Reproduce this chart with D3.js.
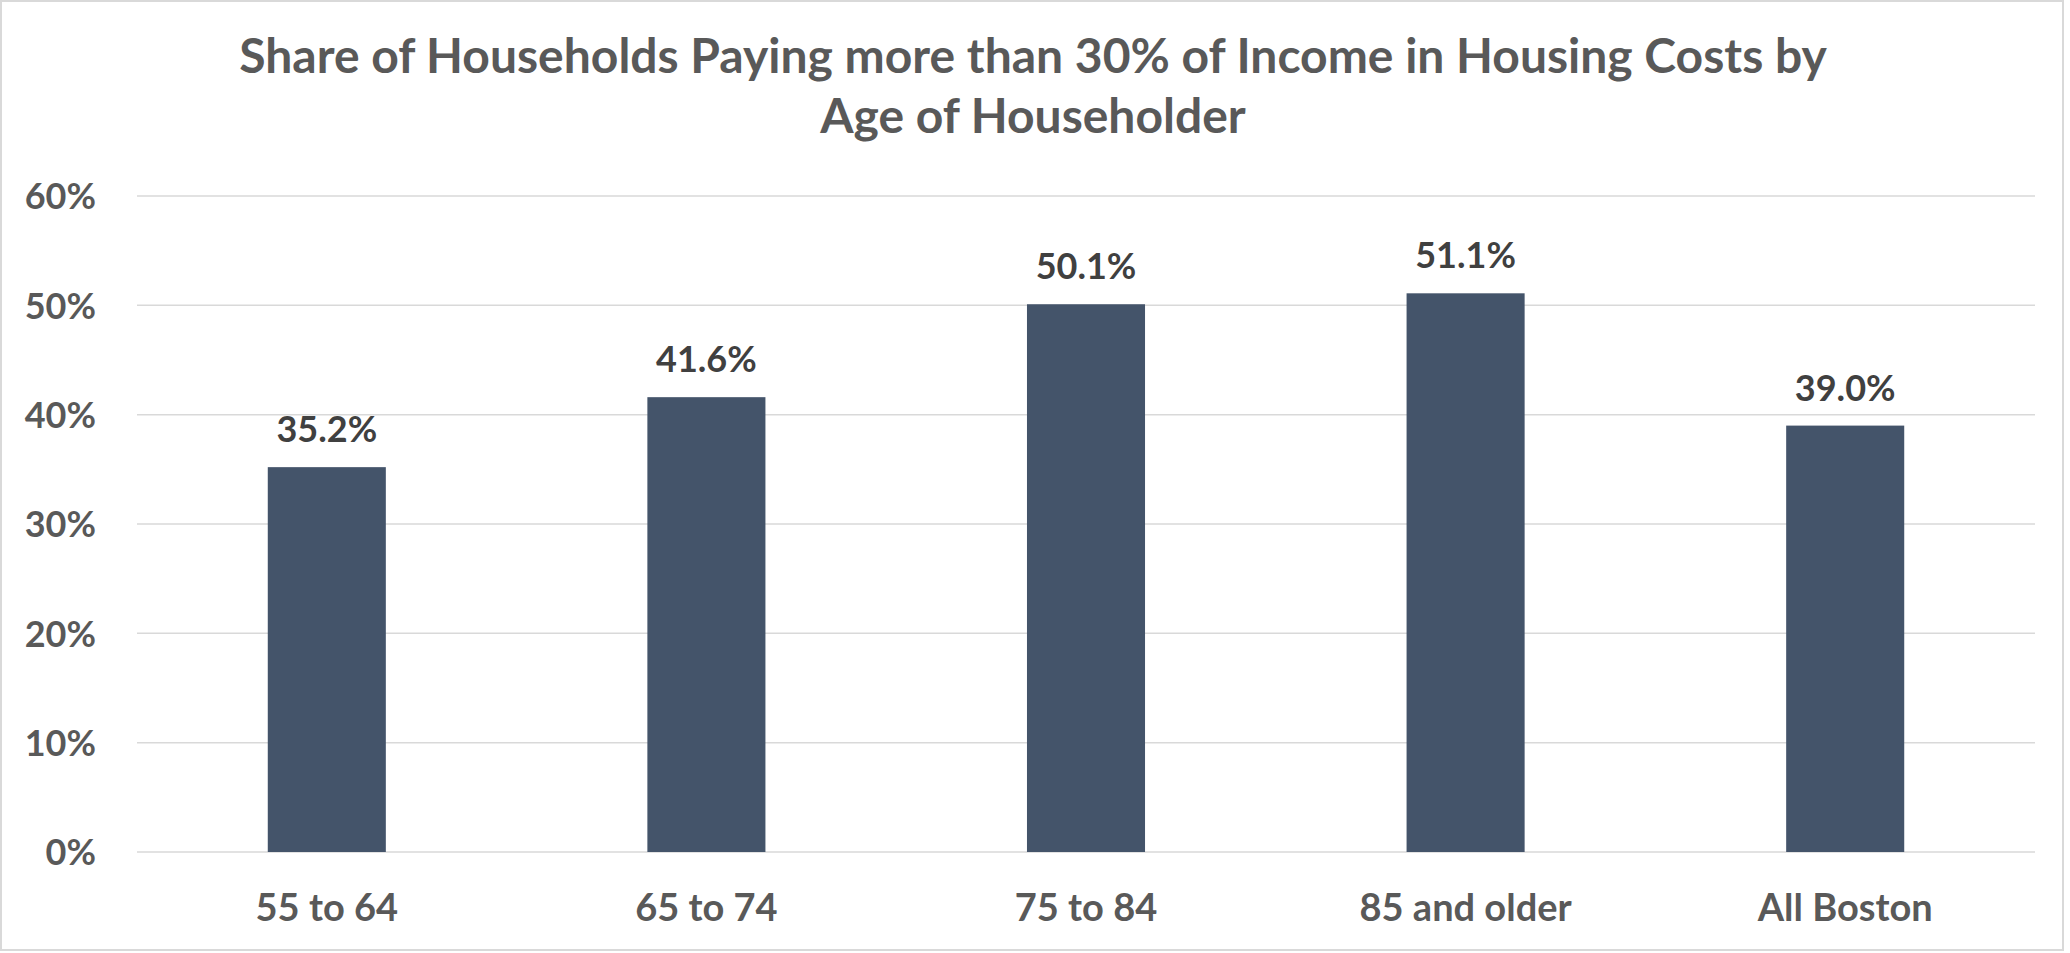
<!DOCTYPE html>
<html>
<head>
<meta charset="utf-8">
<script src="https://cdn.jsdelivr.net/npm/d3@7"></script>
<style>
  html, body { margin: 0; padding: 0; background: #fff; }
  svg { display: block; }
  text { font-family: Lato, "Open Sans", sans-serif; font-weight: 700; }
</style>
</head>
<body>
<svg id="chart" width="2070" height="953"></svg>
<script>
const categories = ["55 to 64", "65 to 74", "75 to 84", "85 and older", "All Boston"];
const values = [35.2, 41.6, 50.1, 51.1, 39.0];
const yTicks = [0, 10, 20, 30, 40, 50, 60];
const titleLines = ["Share of Households Paying more than 30% of Income in Housing Costs by", "Age of Householder"];

const svg = d3.select("#chart");
const W = 2070, H = 953;
const margin = { left: 137, right: 2070 - 2035, top: 196, bottom: 953 - 852 };

svg.append("rect").attr("x", 1).attr("y", 1).attr("width", W - 8).attr("height", H - 4)
  .attr("fill", "#fff").attr("stroke", "#d9d9d9").attr("stroke-width", 2);

const x = d3.scaleBand().domain(categories)
  .range([margin.left, W - margin.right])
  .paddingInner(0.689).paddingOuter(0.3445);
const y = d3.scaleLinear().domain([0, 60]).range([H - margin.bottom, margin.top]);

// gridlines
svg.append("g").selectAll("line").data(yTicks).join("line")
  .attr("x1", margin.left).attr("x2", W - margin.right)
  .attr("y1", d => y(d)).attr("y2", d => y(d))
  .attr("stroke", "#d9d9d9").attr("stroke-width", 1.5);

// y axis labels
const yAxis = d3.axisLeft(y).tickValues(yTicks).tickFormat(d => d + "%").tickSize(0).tickPadding(0);
const yg = svg.append("g").attr("transform", `translate(96,0)`).call(yAxis);
yg.select(".domain").remove();
yg.selectAll("text").attr("fill", "#595959").style("font-size", "36px").attr("dy", "0.36em");

// bars
svg.append("g").selectAll("rect").data(values).join("rect")
  .attr("x", (d, i) => x(categories[i]))
  .attr("width", x.bandwidth())
  .attr("y", d => y(d))
  .attr("height", d => y(0) - y(d))
  .attr("fill", "#44546a");

// data labels
svg.append("g").selectAll("text").data(values).join("text")
  .attr("x", (d, i) => x(categories[i]) + x.bandwidth() / 2)
  .attr("y", d => y(d) - 25)
  .attr("text-anchor", "middle")
  .attr("fill", "#404040").style("font-size", "36px")
  .text(d => d.toFixed(1) + "%");

// x axis labels
const xAxis = d3.axisBottom(x).tickSize(0).tickPadding(0);
const xg = svg.append("g").attr("transform", `translate(0,921)`).call(xAxis);
xg.select(".domain").remove();
xg.selectAll("text").attr("fill", "#595959").style("font-size", "38px").attr("dy", 0).attr("y", 0);

// title
svg.append("g").selectAll("text").data(titleLines).join("text")
  .attr("x", 1033).attr("y", (d, i) => 73 + i * 60)
  .attr("text-anchor", "middle")
  .attr("fill", "#595959").style("font-size", "48px")
  .text(d => d);
</script>
</body>
</html>
